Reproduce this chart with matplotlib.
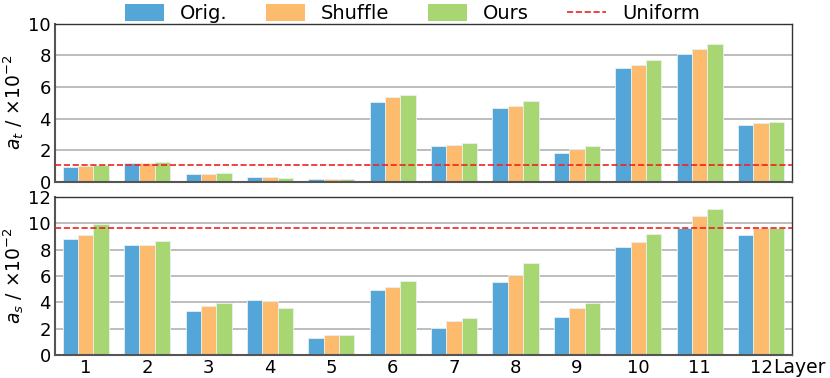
import numpy as np
import matplotlib
matplotlib.use("Agg")
import matplotlib.pyplot as plt
from matplotlib.lines import Line2D
from matplotlib.patches import Patch

layers = [str(i) for i in range(1, 13)]
series_names = ["Orig.", "Shuffle", "Ours"]

at_orig = [0.95, 1.18, 0.47, 0.32, 0.17, 5.03, 2.28, 4.67, 1.84, 7.19, 8.08, 3.61]
at_shuffle = [0.97, 1.18, 0.52, 0.32, 0.19, 5.37, 2.32, 4.78, 2.07, 7.42, 8.40, 3.70]
at_ours = [1.05, 1.25, 0.56, 0.25, 0.15, 5.50, 2.45, 5.10, 2.24, 7.70, 8.75, 3.79]
at_uniform = 1.04

as_orig = [8.83, 8.32, 3.32, 4.16, 1.27, 4.90, 2.05, 5.53, 2.89, 8.19, 9.61, 9.11]
as_shuffle = [9.13, 8.37, 3.75, 4.11, 1.50, 5.20, 2.61, 6.09, 3.58, 8.60, 10.53, 9.61]
as_ours = [9.97, 8.63, 3.96, 3.58, 1.52, 5.61, 2.82, 7.00, 3.93, 9.16, 11.11, 9.61]
as_uniform = 9.61

colors = ["#54a6d8", "#fdbb6d", "#a8d672"]
uniform_color = "#ee2222"

fig = plt.figure(figsize=(8.3, 3.78), dpi=100)
left, right = 0.0663, 0.954
ax1 = fig.add_axes([left, 0.519, right - left, 0.937 - 0.519])
ax2 = fig.add_axes([left, 0.0608, right - left, 0.479 - 0.0608])

x = np.arange(1, 13)
w = 0.25

def draw(ax, data, uni, ymax, ylabel):
    ax.set_axisbelow(True)
    ax.yaxis.grid(True, color="#b8b8b8", linewidth=1.3)
    for k, vals in enumerate(data):
        ax.bar(x + (k - 1) * w, vals, width=w, color=colors[k],
               edgecolor="#e8f0f0", linewidth=0.6, zorder=2)
    ax.axhline(uni, color=uniform_color, linestyle="--", linewidth=1.2, zorder=3)
    ax.set_xlim(0.5, 12.5)
    ax.set_ylim(0, ymax)
    ax.set_yticks(np.arange(0, ymax + 1, 2))
    ax.tick_params(axis="both", length=0, labelsize=13, pad=3)
    ax.set_ylabel(ylabel, fontsize=13.5, labelpad=1.5)
    for s in ["left", "bottom"]:
        ax.spines[s].set_color("#555555")
        ax.spines[s].set_linewidth(1.5)
    for s in ["top", "right"]:
        ax.spines[s].set_color("#333333")
        ax.spines[s].set_linewidth(1.0)

draw(ax1, [at_orig, at_shuffle, at_ours], at_uniform, 10, r"$a_t$ / $\times10^{-2}$")
draw(ax2, [as_orig, as_shuffle, as_ours], as_uniform, 12, r"$a_s$ / $\times10^{-2}$")

ax1.set_xticks([])
ax2.set_xticks(x)
ax2.set_xticklabels(layers)
ax2.text(12.19, -0.25, "Layer", transform=ax2.transData, fontsize=13.5,
         ha="left", va="top")

handles = [Patch(facecolor=c, edgecolor="none") for c in colors]
handles.append(Line2D([0], [0], color=uniform_color, linestyle="--", linewidth=1.2))
fig.legend(handles, series_names + ["Uniform"], loc="upper center",
           bbox_to_anchor=(0.497, 1.035), ncol=4, frameon=False, fontsize=14,
           handlelength=2.0, handleheight=0.9, columnspacing=2.0, handletextpad=0.8)

fig.savefig("out.png", dpi=100)
